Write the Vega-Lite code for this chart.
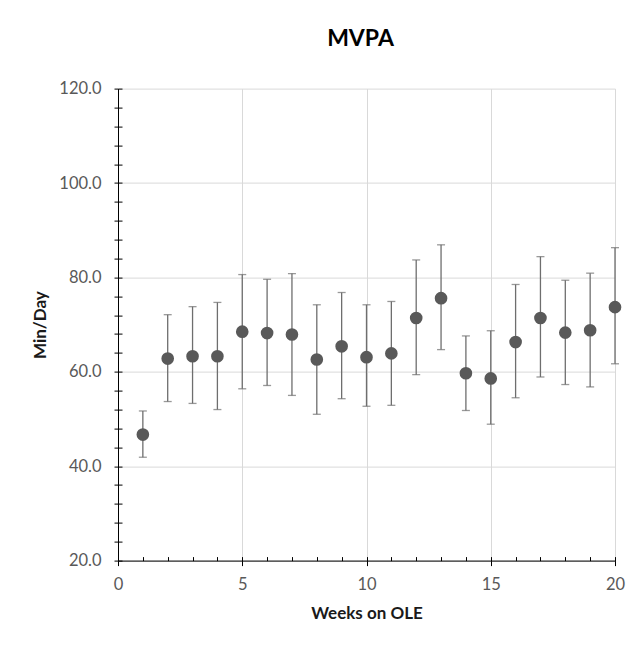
{
  "$schema": "https://vega.github.io/schema/vega-lite/v6.json",
  "width": 497,
  "height": 472,
  "autosize": "none",
  "padding": {"left": 118, "top": 88.6, "right": 13, "bottom": 87.4},
  "background": "white",
  "config": {
    "font": "Lato",
    "view": {"stroke": null},
    "axis": {
      "labelFont": "Lato",
      "labelFontSize": 16.5,
      "labelColor": "#595959",
      "titleFont": "Lato",
      "titleFontSize": 17,
      "titleFontWeight": "bold",
      "titleColor": "#1a1a1a",
      "domainColor": "#000000",
      "tickColor": "#000000",
      "domainWidth": 1,
      "tickWidth": 1,
      "gridColor": "#d9d9d9",
      "gridWidth": 1
    }
  },
  "title": {
    "text": "MVPA",
    "font": "Lato",
    "fontSize": 23,
    "fontWeight": "bold",
    "color": "#000000",
    "anchor": "middle",
    "frame": "group",
    "baseline": "alphabetic",
    "dx": -6,
    "offset": 12
  },
  "data": {
    "values": [
      {"week": 1, "mean": 46.7, "lo": 41.9, "hi": 51.7},
      {"week": 2, "mean": 62.8, "lo": 53.7, "hi": 72.1},
      {"week": 3, "mean": 63.3, "lo": 53.3, "hi": 73.8},
      {"week": 4, "mean": 63.3, "lo": 52.0, "hi": 74.7},
      {"week": 5, "mean": 68.5, "lo": 56.4, "hi": 80.6},
      {"week": 6, "mean": 68.2, "lo": 57.1, "hi": 79.6},
      {"week": 7, "mean": 67.9, "lo": 55.0, "hi": 80.8},
      {"week": 8, "mean": 62.6, "lo": 51.0, "hi": 74.2},
      {"week": 9, "mean": 65.4, "lo": 54.3, "hi": 76.8},
      {"week": 10, "mean": 63.1, "lo": 52.7, "hi": 74.2},
      {"week": 11, "mean": 63.9, "lo": 52.9, "hi": 74.9},
      {"week": 12, "mean": 71.4, "lo": 59.4, "hi": 83.7},
      {"week": 13, "mean": 75.6, "lo": 64.7, "hi": 86.9},
      {"week": 14, "mean": 59.7, "lo": 51.8, "hi": 67.6},
      {"week": 15, "mean": 58.6, "lo": 48.9, "hi": 68.7},
      {"week": 16, "mean": 66.3, "lo": 54.5, "hi": 78.5},
      {"week": 17, "mean": 71.4, "lo": 58.9, "hi": 84.4},
      {"week": 18, "mean": 68.3, "lo": 57.3, "hi": 79.4},
      {"week": 19, "mean": 68.8, "lo": 56.8, "hi": 80.9},
      {"week": 20, "mean": 73.7, "lo": 61.7, "hi": 86.3}
    ]
  },
  "layer": [
    {
      "mark": {"type": "rule", "color": "#6e6e6e", "strokeWidth": 1.3},
      "encoding": {
        "x": {
          "field": "week", "type": "quantitative",
          "scale": {"domain": [0, 20], "nice": false, "zero": false},
          "axis": {
            "orient": "bottom",
            "values": [0, 5, 10, 15, 20],
            "format": "d",
            "tickSize": 5,
            "labelPadding": 11,
            "labelFlush": false,
            "grid": true,
            "title": "Weeks on OLE",
            "titlePadding": 12
          }
        },
        "y": {
          "field": "lo", "type": "quantitative",
          "scale": {"domain": [20, 120], "nice": false, "zero": false},
          "axis": {
            "orient": "left",
            "values": [20, 24, 28, 32, 36, 40, 44, 48, 52, 56, 60, 64, 68, 72, 76, 80, 84, 88, 92, 96, 100, 104, 108, 112, 116, 120],
            "labelExpr": "datum.value % 20 === 0 ? format(datum.value, '.1f') : ''",
            "tickSize": 4,
            "labelPadding": 13,
            "labelFlush": false,
            "grid": true,
            "gridOpacity": {"condition": {"test": "datum.value % 20 === 0", "value": 1}, "value": 0},
            "title": "Min/Day",
            "titlePadding": 9
          }
        },
        "y2": {"field": "hi"}
      }
    },
    {
      "mark": {"type": "tick", "orient": "horizontal", "color": "#6e6e6e", "thickness": 1.3, "size": 8},
      "encoding": {
        "x": {
          "field": "week", "type": "quantitative",
          "axis": {
            "orient": "bottom",
            "values": [0, 1, 2, 3, 4, 5, 6, 7, 8, 9, 10, 11, 12, 13, 14, 15, 16, 17, 18, 19, 20],
            "tickSize": -4,
            "labels": false,
            "domain": false,
            "grid": false,
            "title": null
          }
        },
        "y": {
          "field": "lo", "type": "quantitative",
          "axis": {
            "orient": "left",
            "values": [20, 24, 28, 32, 36, 40, 44, 48, 52, 56, 60, 64, 68, 72, 76, 80, 84, 88, 92, 96, 100, 104, 108, 112, 116, 120],
            "tickSize": -4,
            "labels": false,
            "domain": false,
            "grid": false,
            "title": null
          }
        }
      }
    },
    {
      "mark": {"type": "tick", "orient": "horizontal", "color": "#6e6e6e", "thickness": 1.3, "size": 8},
      "encoding": {
        "x": {"field": "week", "type": "quantitative", "axis": null},
        "y": {"field": "hi", "type": "quantitative", "axis": null}
      }
    },
    {
      "mark": {"type": "circle", "color": "#595959", "opacity": 1, "size": 160},
      "encoding": {
        "x": {"field": "week", "type": "quantitative", "axis": null},
        "y": {"field": "mean", "type": "quantitative", "axis": null}
      }
    }
  ],
  "resolve": {"axis": {"x": "independent", "y": "independent"}}
}
